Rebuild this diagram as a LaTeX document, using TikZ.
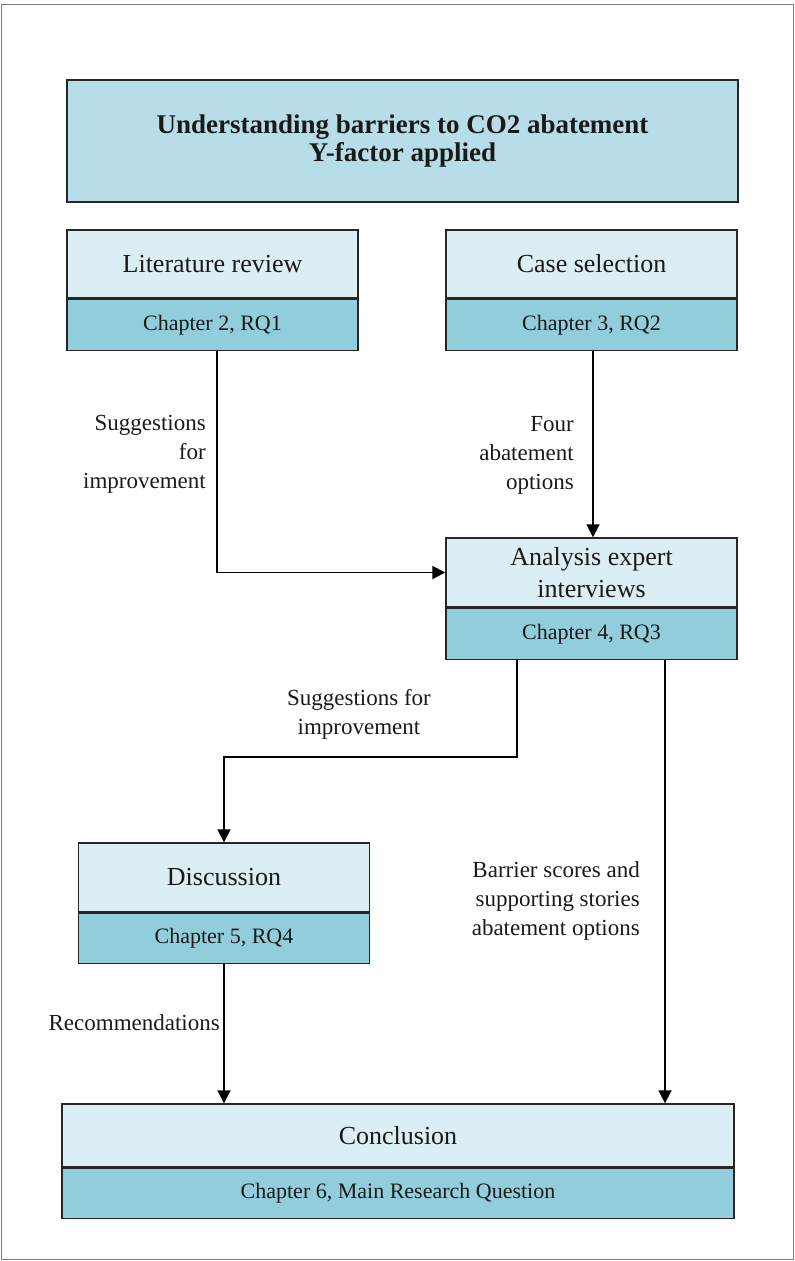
\documentclass[tikz,border=0pt]{standalone}
\usepackage{fontspec}
\setmainfont{Liberation Serif}
\usetikzlibrary{arrows.meta}
\definecolor{boxlight}{HTML}{DAEEF3}
\definecolor{boxmid}{HTML}{92CDDC}
\definecolor{titlefill}{HTML}{B7DEE8}
\definecolor{framegray}{HTML}{7F7F7F}
\definecolor{edgecol}{HTML}{262626}
\definecolor{txt}{HTML}{1A1A1A}
\begin{document}
\begin{tikzpicture}[x=1pt,y=-1pt,
  headbox/.style={draw=edgecol, line width=1.4pt, fill=boxlight, text=txt,
    minimum width=291pt, minimum height=68pt, inner sep=0pt, align=center,
    font=\fontsize{26}{32}\selectfont},
  subbox/.style={draw=edgecol, line width=1.4pt, fill=boxmid, text=txt,
    minimum width=291pt, minimum height=51pt, inner sep=0pt, anchor=north,
    font=\fontsize{22}{26}\selectfont},
  lbl/.style={font=\fontsize{23}{29}\selectfont, inner sep=0pt, text=txt},
  arr/.style={line width=1.8pt, draw=black, -{Triangle[length=13pt,width=13pt]}},
]
\useasboundingbox (0,0) rectangle (795,1261);
\draw[framegray, line width=1pt] (1.5,4.5) rectangle (793,1259.5);

% title
\node[headbox, fill=titlefill, minimum width=671pt, minimum height=122pt,
  font=\bfseries\fontsize{27}{28}\selectfont] (title) at (402.5,141)
  {Understanding barriers to CO2 abatement\\Y-factor applied};

% literature review
\node[headbox] (lithead) at (212.5,264) {Literature review};
\node[subbox] (litsub) at (lithead.south) {Chapter 2, RQ1};

% case selection
\node[headbox] (casehead) at (591.5,264) {Case selection};
\node[subbox] (casesub) at (casehead.south) {Chapter 3, RQ2};

% analysis
\node[headbox, minimum height=69pt] (anahead) at (591.5,572.5) {Analysis expert\\interviews};
\node[subbox] (anasub) at (anahead.south) {Chapter 4, RQ3};

% discussion
\node[headbox, minimum height=69pt] (dishead) at (224,877.5) {Discussion};
\node[subbox, minimum height=50pt] (dissub) at (dishead.south) {Chapter 5, RQ4};

% conclusion
\node[headbox, minimum width=672pt, minimum height=63pt] (conhead) at (398,1135.5) {Conclusion};
\node[subbox, minimum width=672pt, minimum height=50pt] (consub) at (conhead.south) {Chapter 6, Main Research Question};

% connectors
\draw[arr] ([xshift=4.5pt]litsub.south) |- (anahead.west);
\draw[arr] ([xshift=1.5pt]casesub.south) -- ([xshift=1.5pt]anahead.north);
\draw[arr] ([xshift=-74.5pt]anasub.south) -- ++(0,97) -| (dishead.north);
\draw[arr] ([xshift=73.5pt]anasub.south) -- ([xshift=73.5pt]anasub.south |- conhead.north);
\draw[arr] (dissub.south) -- (dissub.south |- conhead.north);

% labels
\node[lbl, anchor=east, align=right] (l1) at (206,454) {Suggestions\\for\\improvement};
\node[lbl, anchor=east, align=right] (l2) at (574,455) {Four\\abatement\\options};
\node[lbl, align=center] (l3) at (359,714) {Suggestions for\\improvement};
\node[lbl, anchor=east, align=right] (l4) at (640,901) {Barrier scores and\\supporting stories\\abatement options};
\node[lbl, anchor=east] (l5) at (220,1023) {Recommendations};
\end{tikzpicture}
\end{document}
